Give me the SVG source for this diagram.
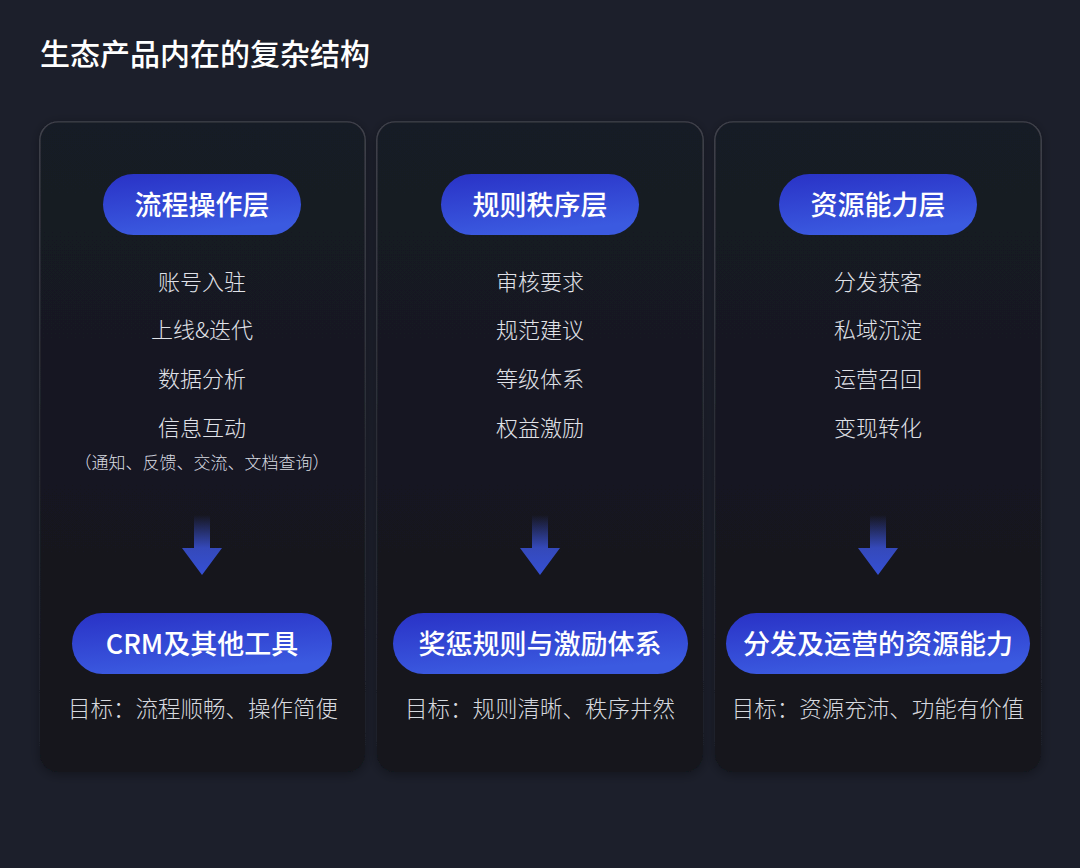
<svg xmlns="http://www.w3.org/2000/svg" width="1080" height="868" viewBox="0 0 1080 868">
  <defs>
    <linearGradient id="cardFill" x1="0" y1="0" x2="0" y2="1">
      <stop offset="0" stop-color="#191b25"/>
      <stop offset="1" stop-color="#13151c"/>
    </linearGradient>
    <linearGradient id="cardStroke" x1="0" y1="0" x2="0" y2="1">
      <stop offset="0" stop-color="#ffffff" stop-opacity="0.16"/>
      <stop offset="0.5" stop-color="#ffffff" stop-opacity="0.04"/>
      <stop offset="1" stop-color="#ffffff" stop-opacity="0"/>
    </linearGradient>
    <linearGradient id="pillFill" x1="0" y1="0" x2="0.3" y2="1">
      <stop offset="0" stop-color="#2932c6"/>
      <stop offset="1" stop-color="#3b5ae0"/>
    </linearGradient>
    <linearGradient id="arrowFill" x1="0" y1="515" x2="0" y2="575" gradientUnits="userSpaceOnUse">
      <stop offset="0" stop-color="#3a52d6" stop-opacity="0"/>
      <stop offset="0.55" stop-color="#3a52d6" stop-opacity="0.85"/>
      <stop offset="1" stop-color="#3550d4"/>
    </linearGradient>
    <filter id="shadow" x="-10%" y="-10%" width="120%" height="120%">
      <feGaussianBlur in="SourceAlpha" stdDeviation="6"/>
      <feOffset dy="2"/>
      <feComponentTransfer><feFuncA type="linear" slope="0.35"/></feComponentTransfer>
      <feMerge><feMergeNode/><feMergeNode in="SourceGraphic"/></feMerge>
    </filter>
  </defs>
  <style>
    text { font-family: "Noto Sans CJK SC", "Noto Sans", sans-serif; text-anchor: middle; }
    .title { font-size: 30px; font-weight: 500; fill: #ffffff; text-anchor: start; }
    .card { fill: url(#cardFill); stroke: url(#cardStroke); stroke-width: 1.2; }
    .pill { fill: url(#pillFill); }
    .pilltext { font-size: 27px; font-weight: 500; fill: #ffffff; }
    .item { font-size: 22px; font-weight: 300; fill: #e0e2e8; }
    .sub { font-size: 17px; font-weight: 300; fill: #d8dbe1; }
    .goal { font-size: 22.5px; font-weight: 300; fill: #d6d9df; }
    .arrow { fill: url(#arrowFill); }
  </style>
  <rect width="1080" height="868" fill="#1c1f2b"/>
  <text class="title" x="40" y="65">生态产品内在的复杂结构</text>

  <g id="card-process" filter="url(#shadow)">
    <rect class="card" x="40" y="122" width="325" height="650" rx="18"/>
  </g>
  <g id="card-rules" filter="url(#shadow)">
    <rect class="card" x="377" y="122" width="326" height="650" rx="18"/>
  </g>
  <g id="card-resource" filter="url(#shadow)">
    <rect class="card" x="715" y="122" width="326" height="650" rx="18"/>
  </g>

  <g id="layer-process">
    <rect class="pill" x="103" y="174" width="198" height="61" rx="30.5"/>
    <text class="pilltext" x="202" y="214.5">流程操作层</text>
    <text class="item" x="202" y="290">账号入驻</text>
    <text class="item" x="202" y="338">上线&amp;迭代</text>
    <text class="item" x="202" y="387">数据分析</text>
    <text class="item" x="202" y="436">信息互动</text>
    <text class="sub" x="202" y="468.5">（通知、反馈、交流、文档查询）</text>
  </g>
  <g id="layer-rules">
    <rect class="pill" x="441" y="174" width="198" height="61" rx="30.5"/>
    <text class="pilltext" x="540" y="214.5">规则秩序层</text>
    <text class="item" x="540" y="290">审核要求</text>
    <text class="item" x="540" y="338">规范建议</text>
    <text class="item" x="540" y="387">等级体系</text>
    <text class="item" x="540" y="436">权益激励</text>
  </g>
  <g id="layer-resource">
    <rect class="pill" x="779" y="174" width="198" height="61" rx="30.5"/>
    <text class="pilltext" x="878" y="214.5">资源能力层</text>
    <text class="item" x="878" y="290">分发获客</text>
    <text class="item" x="878" y="338">私域沉淀</text>
    <text class="item" x="878" y="387">运营召回</text>
    <text class="item" x="878" y="436">变现转化</text>
  </g>

  <g id="result-crm">
    <rect class="pill" x="72" y="613" width="260" height="61" rx="30.5"/>
    <text class="pilltext" x="202" y="653.5">CRM及其他工具</text>
    <text class="goal" x="203" y="717">目标：流程顺畅、操作简便</text>
  </g>
  <g id="result-rules">
    <rect class="pill" x="393" y="613" width="295" height="61" rx="30.5"/>
    <text class="pilltext" x="540" y="653.5">奖惩规则与激励体系</text>
    <text class="goal" x="540" y="717">目标：规则清晰、秩序井然</text>
  </g>
  <g id="result-resource">
    <rect class="pill" x="726" y="613" width="304" height="61" rx="30.5"/>
    <text class="pilltext" x="878" y="653.5">分发及运营的资源能力</text>
    <text class="goal" x="878" y="717">目标：资源充沛、功能有价值</text>
  </g>

  <g id="connectors">
    <path class="arrow" d="M194 515 H210 V548 H222 L202 575 L182 548 H194 Z"/>
    <path class="arrow" d="M532 515 H548 V548 H560 L540 575 L520 548 H532 Z"/>
    <path class="arrow" d="M870 515 H886 V548 H898 L878 575 L858 548 H870 Z"/>
  </g>
</svg>
